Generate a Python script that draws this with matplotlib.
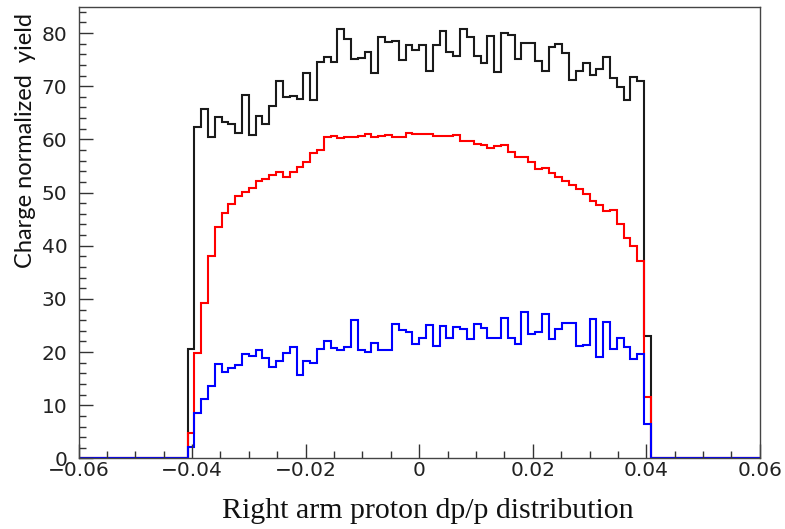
import numpy as np
import matplotlib
matplotlib.use("Agg")
import matplotlib.pyplot as plt
from matplotlib.ticker import MultipleLocator

# Histogram binning
n_bins = 100
x_min, x_max = -0.06, 0.06
first_bin = 16  # index of first non-empty bin

# Bin contents (non-empty bins, starting at first_bin)
total_yield = [20.5, 62.4, 65.8, 60.4, 64.2, 63.3, 62.9, 61.2, 68.3, 60.8,
               64.4, 62.9, 66.3, 70.9, 67.9, 68.2, 67.6, 72.5, 67.4, 74.5,
               75.5, 74.5, 80.8, 78.8, 75.1, 75.4, 76.5, 72.5, 79.2, 78.4,
               78.5, 74.9, 77.8, 76.9, 77.8, 72.9, 77.7, 80.4, 76.5, 75.6,
               80.8, 79.3, 75.6, 74.4, 79.5, 72.7, 80.1, 79.7, 75.1, 78.2,
               78.2, 74.8, 72.9, 77.3, 78.0, 76.2, 71.1, 72.9, 74.3, 72.1,
               73.3, 75.5, 71.5, 69.8, 67.4, 71.7, 70.9, 23.1]
red_yield = [4.7, 19.9, 29.2, 38.1, 43.5, 46.2, 47.9, 49.4, 50.1, 50.9,
             52.1, 52.5, 53.3, 53.9, 53.0, 53.9, 54.9, 55.8, 57.4, 58.1,
             60.4, 60.6, 60.2, 60.4, 60.5, 60.6, 61.0, 60.5, 60.6, 60.8,
             60.5, 60.4, 61.2, 61.1, 61.0, 61.1, 60.6, 60.6, 60.6, 60.8,
             59.7, 59.7, 59.2, 58.9, 58.4, 58.7, 58.9, 57.7, 56.6, 56.6,
             55.8, 54.5, 54.6, 53.6, 53.0, 52.2, 51.5, 50.7, 49.8, 48.5,
             47.6, 46.6, 46.7, 44.0, 41.4, 39.9, 37.2, 11.5]
blue_yield = [2.2, 8.6, 11.1, 13.6, 17.7, 16.2, 17.0, 17.5, 19.6, 19.3,
              20.4, 18.9, 17.2, 18.3, 19.9, 21.0, 15.7, 18.3, 17.9, 20.6,
              22.1, 20.8, 20.4, 21.0, 26.0, 20.4, 20.0, 21.8, 20.4, 20.4,
              25.2, 24.1, 23.7, 21.6, 22.7, 25.1, 21.1, 24.9, 22.7, 24.7,
              24.3, 22.5, 25.3, 24.5, 22.7, 22.7, 26.5, 22.6, 21.5, 27.6,
              23.4, 23.8, 27.2, 22.5, 24.3, 25.4, 25.4, 21.1, 21.4, 26.3,
              19.0, 25.6, 20.6, 22.6, 21.0, 18.8, 19.7, 6.5]

x_ticks = [-0.06, -0.04, -0.02, 0, 0.02, 0.04, 0.06]
x_tick_labels = ["\u22120.06", "\u22120.04", "\u22120.02", "0", "0.02", "0.04", "0.06"]
y_ticks = [0, 10, 20, 30, 40, 50, 60, 70, 80]

edges = np.linspace(x_min, x_max, n_bins + 1)


def full(vals):
    arr = np.zeros(n_bins)
    arr[first_bin:first_bin + len(vals)] = vals
    return arr


fig = plt.figure(figsize=(7.85, 5.29), dpi=100)
ax = fig.add_axes([0.1, 0.1333, 0.868, 0.8535])

ax.stairs(full(total_yield), edges, color="#1a1a1a", lw=1.5)
ax.stairs(full(red_yield), edges, color="#ff0000", lw=1.5)
ax.stairs(full(blue_yield), edges, color="#0000ff", lw=1.5)

ax.set_xlim(x_min, x_max)
ax.set_ylim(0, 84.9)

ax.set_xticks(x_ticks)
ax.set_xticklabels(x_tick_labels)
ax.set_yticks(y_ticks)
ax.xaxis.set_minor_locator(MultipleLocator(0.005))
ax.yaxis.set_minor_locator(MultipleLocator(2))

ax.tick_params(which="both", direction="in", top=False, right=False,
               colors="#333333", labelcolor="#222222", labelsize=14.5,
               width=1.0)
ax.tick_params(which="major", length=10)
ax.tick_params(which="minor", length=5)
ax.tick_params(axis="x", pad=2)
ax.tick_params(axis="y", pad=8)
for lab in ax.get_xticklabels() + ax.get_yticklabels():
    lab.set_family(["DejaVu Sans"])

for sp in ax.spines.values():
    sp.set_color("#444444")
    sp.set_linewidth(1.0)

fig.text(428 / 785, 1 - 511 / 529, "Right arm proton dp/p distribution",
         ha="center", va="center", fontsize=21.5, family=["Liberation Serif"],
         color="#111111")
fig.text(26 / 785, 1 - 141 / 529, "Charge normalized  yield", rotation=90,
         ha="center", va="center", fontsize=17, family=["Lato", "DejaVu Sans"],
         color="#111111")

fig.savefig("out.png", dpi=100)
